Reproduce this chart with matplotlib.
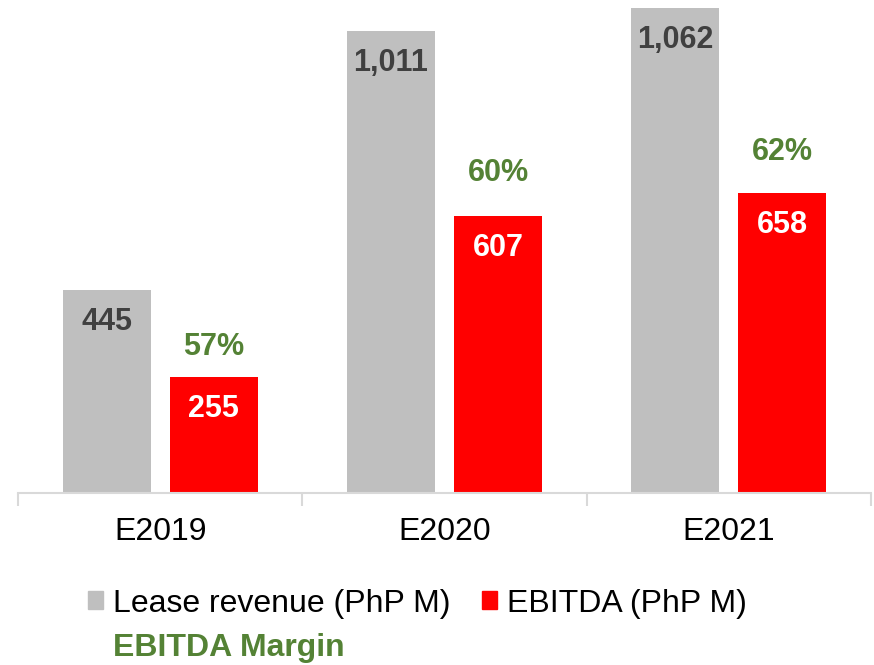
import matplotlib.pyplot as plt
from matplotlib.patches import Patch

# data
years = ['E2019', 'E2020', 'E2021']
lease_revenue = [445, 1011, 1062]
ebitda = [255, 607, 658]
margin = [57, 60, 62]

GREY = '#bfbfbf'
RED = '#ff0000'
GREEN = '#548235'
DARK = '#404040'

plt.rcParams['font.family'] = ['Liberation Sans', 'DejaVu Sans']

fig = plt.figure(figsize=(8.74, 6.65), dpi=100)
ax = fig.add_axes([0.0206, 0.2586, 0.976, 0.7414])

x = list(range(len(years)))
w = 0.31
off = 0.188
b1 = ax.bar([i - off for i in x], lease_revenue, w, color=GREY)
b2 = ax.bar([i + off for i in x], ebitda, w, color=RED)

# value labels inside bars
for rect, v in zip(b1, lease_revenue):
    ax.annotate(f'{v:,}', (rect.get_x() + rect.get_width() / 2, v),
                xytext=(0, -23), textcoords='offset points',
                ha='center', va='center', fontsize=22, fontweight='bold', color=DARK)
for rect, v in zip(b2, ebitda):
    ax.annotate(f'{v:,}', (rect.get_x() + rect.get_width() / 2, v),
                xytext=(0, -23), textcoords='offset points',
                ha='center', va='center', fontsize=22, fontweight='bold', color='white')

# margin labels above ebitda bars
lift = [21, 31, 29]
for rect, v, m, d in zip(b2, ebitda, margin, lift):
    ax.annotate(f'{m}%', (rect.get_x() + rect.get_width() / 2, v),
                xytext=(0, d), textcoords='offset points',
                ha='center', va='center', fontsize=22, fontweight='bold', color=GREEN)

ax.set_xlim(-0.5, 2.5)
ax.set_ylim(0, 1080)
ax.set_yticks([])
for s in ['top', 'right', 'left']:
    ax.spines[s].set_visible(False)
ax.spines['bottom'].set_color('#d9d9d9')
ax.spines['bottom'].set_linewidth(1.5)

ax.set_xticks(x)
ax.set_xticklabels(years, fontsize=23)
ax.tick_params(axis='x', which='major', length=0, pad=17)
ax.set_xticks([-0.5, 0.5, 1.5, 2.5], minor=True)
ax.tick_params(axis='x', which='minor', length=9, width=1.5, color='#d9d9d9')

handles = [Patch(color=GREY), Patch(color='none'), Patch(color=RED)]
labels = ['Lease revenue (PhP M)', 'EBITDA Margin', 'EBITDA (PhP M)']
leg = fig.legend(handles, labels, ncol=2, loc='upper left',
                 bbox_to_anchor=(0.101, 0.115), frameon=False, fontsize=23,
                 handlelength=0.47, handleheight=0.47, handletextpad=0.3,
                 columnspacing=1.0, borderpad=0, borderaxespad=0, labelspacing=0.45)
t = leg.get_texts()[1]
t.set_color(GREEN)
t.set_fontweight('bold')

fig.savefig('out.png', dpi=100)
